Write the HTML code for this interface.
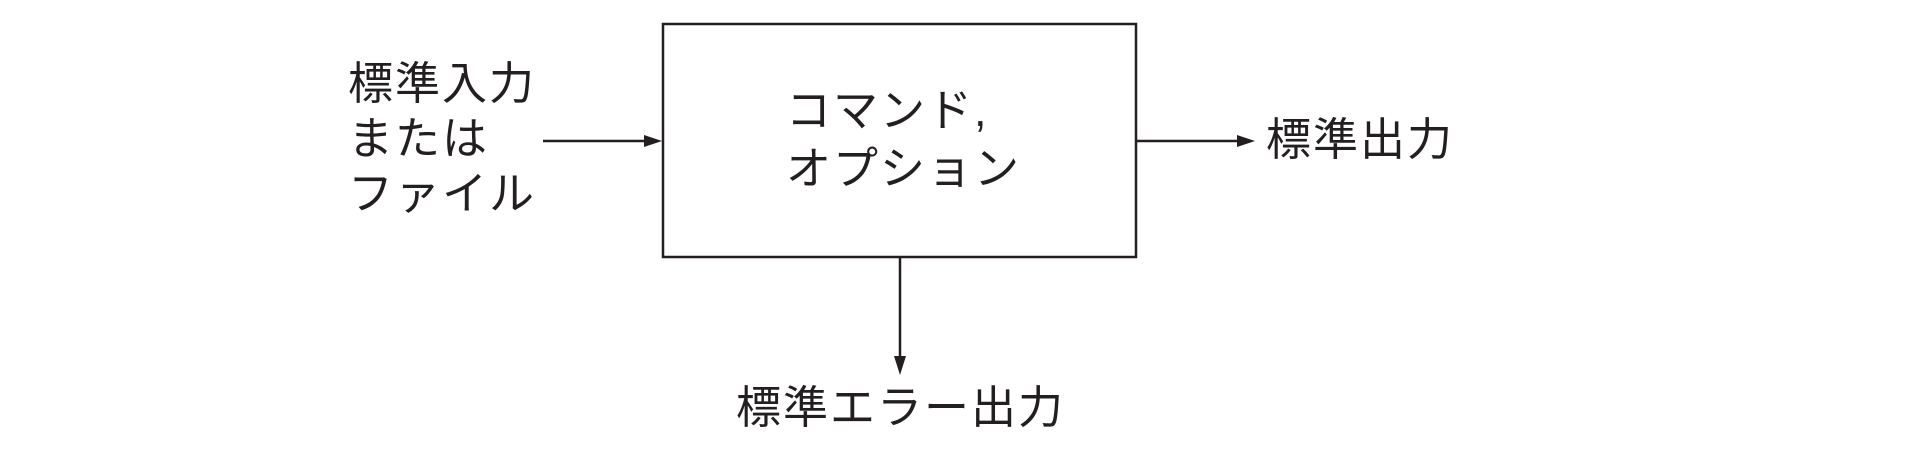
<!DOCTYPE html>
<html><head><meta charset="utf-8"><style>
html,body{margin:0;padding:0;background:#fff;}
svg{display:block;}
text{font-family:"Liberation Sans","Noto Sans CJK JP",sans-serif;font-size:45px;fill:#231f20;letter-spacing:2px;}
</style></head><body>
<svg width="1920" height="449" viewBox="0 0 1920 449" xmlns="http://www.w3.org/2000/svg">
<rect x="663" y="24" width="473" height="233" fill="none" stroke="#231f20" stroke-width="2.5"/>
<line x1="543" y1="141" x2="648" y2="141" stroke="#231f20" stroke-width="2.5"/>
<polygon points="662,141 644,135 644,147" fill="#231f20"/>
<line x1="1136" y1="141" x2="1240" y2="141" stroke="#231f20" stroke-width="2.5"/>
<polygon points="1255,141 1237,135 1237,147" fill="#231f20"/>
<line x1="900" y1="257" x2="900" y2="360" stroke="#231f20" stroke-width="2.5"/>
<polygon points="900,375 894,356 906,356" fill="#231f20"/>
<text x="348" y="99">標準入力</text>
<text x="348" y="154">または</text>
<text x="348" y="209">ファイル</text>
<text x="786" y="126" letter-spacing="2">コマンド,</text>
<text x="786" y="184" letter-spacing="2">オプション</text>
<text x="1266" y="155">標準出力</text>
<text x="736" y="423">標準エラー出力</text>
</svg>
</body></html>
